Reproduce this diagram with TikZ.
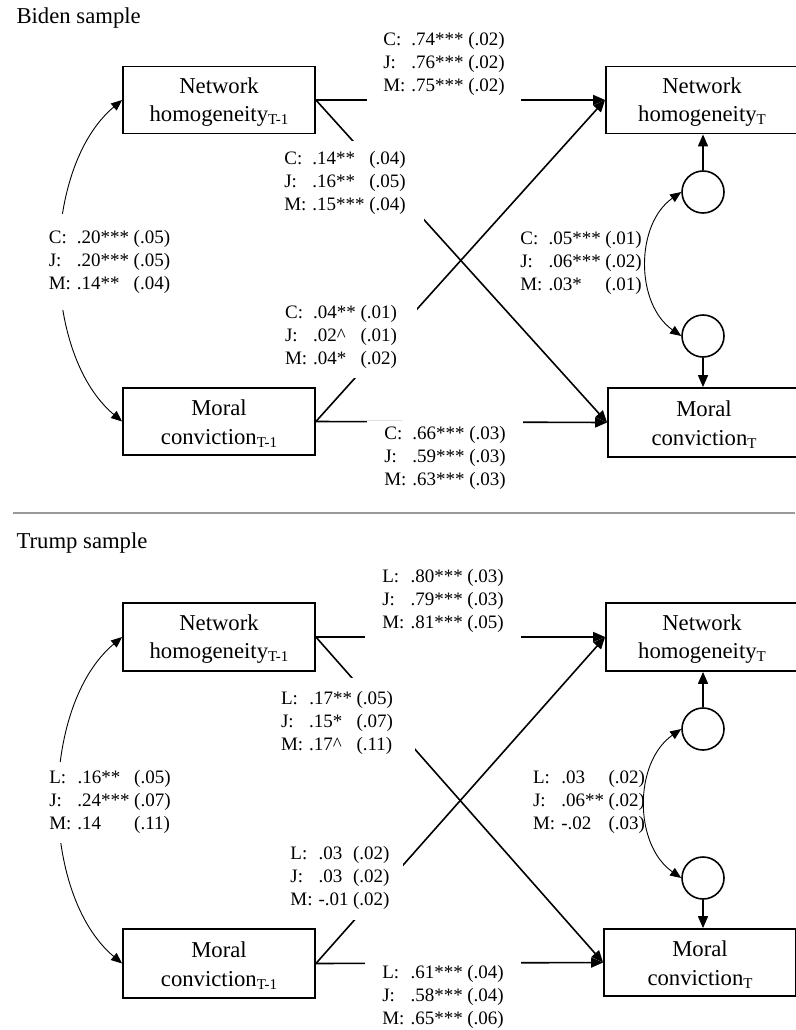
\documentclass[tikz,border=0pt]{standalone}
\usepackage{fontspec}
\setmainfont{Liberation Serif}
\usetikzlibrary{arrows.meta}
\newcommand\bxfont{\fontsize{22.7}{28.5}\selectfont}
\newcommand\cffont{\fontsize{19}{23}\selectfont}
\newcommand\bxtop{\rule{0pt}{20pt}}
\newcommand\tsub[1]{\raisebox{-3pt}{\fontsize{15}{15}\selectfont #1}}
\newcommand\coeftab[1]{\begin{tabular}{@{}l@{\hspace{6pt}}l@{\hspace{4.5pt}}l@{}}#1\end{tabular}}
\tikzset{
  var/.style={draw,line width=1.8pt,minimum width=192pt,minimum height=67pt,inner sep=0pt,align=center,font=\bxfont},
  err/.style={draw,circle,line width=1.6pt,minimum size=42pt,inner sep=0pt},
  coef/.style={fill=white,font=\cffont,inner sep=0pt},
  reg/.style={line width=1.6pt,-{Triangle[length=12pt,width=10pt]}},
  cov/.style={line width=0.9pt,{Triangle[length=11pt,width=9pt]}-{Triangle[length=11pt,width=9pt]}},
}
\begin{document}
\begin{tikzpicture}[x=1pt,y=-1pt]
      \fill[white] (0,0) rectangle (795,1030);
      \useasboundingbox (0,0) rectangle (795,1030);
      \node[anchor=west,font=\bxfont] (ttl1) at (13,18) {Biden sample};
      \node[var] (nh1) at (219,100) {\bxtop Network\\homogeneity\tsub{T-1}};
      \node[var] (mc1) at (219,421.5) {\bxtop Moral\\conviction\tsub{T-1}};
      \node[var] (nh2) at (702,100) {\bxtop Network\\homogeneity\tsub{T}};
      \node[var,minimum height=69pt] (mc2) at (704,422.5) {\bxtop Moral\\conviction\tsub{T}};
      \node[err] (e1) at (703,192) {};
      \node[err] (e2) at (703,336) {};
      \draw[reg] (nh1.east) -- (nh2.west);
      \draw[reg] (nh1.east) -- (mc2.west);
      \draw[reg] (mc1.east) -- (nh2.west);
      \draw[reg] (mc1.east) -- (mc2.west);
      \draw[reg] (e1.north) -- (e1.north |- nh2.south);
      \draw[reg] (e2.south) -- (e2.south |- mc2.north);
      \draw[cov] (nh1.west) to[bend right=50,looseness=0.85] (mc1.west);
      \draw[cov] (e1.west) to[bend right=55] (e2.west);
      \node[coef,inner xsep=16pt,inner ysep=6pt] (ca) at (444,64) {\coeftab{C: & .74*** & (.02)\\ J: & .76*** & (.02)\\ M: & .75*** & (.02)}};
      \node[coef,inner xsep=18pt,inner ysep=8pt] (cb) at (345,183) {\coeftab{C: & .14** & (.04)\\ J: & .16** & (.05)\\ M: & .15*** & (.04)}};
      \node[coef,inner xsep=20pt,inner ysep=6.5pt] (cc) at (341,337) {\coeftab{C: & .04** & (.01)\\ J: & .02\textasciicircum & (.01)\\ M: & .04* & (.02)}};
      \node[coef,inner xsep=17pt,inner ysep=2.5pt] (cd) at (445,458) {\coeftab{C: & .66*** & (.03)\\ J: & .59*** & (.03)\\ M: & .63*** & (.03)}};
      \node[coef,inner xsep=3pt,inner ysep=13.5pt] (ce) at (109.5,262) {\coeftab{C: & .20*** & (.05)\\ J: & .20*** & (.05)\\ M: & .14** & (.04)}};
      \node[font=\cffont,inner sep=0pt] (cf) at (581,263) {\coeftab{C: & .05*** & (.01)\\ J: & .06*** & (.02)\\ M: & .03* & (.01)}};
      \draw[black!40,line width=2.5pt] (13,513) -- (795,513);
      \node[anchor=west,font=\bxfont] (ttl2) at (13,543) {Trump sample};
      \node[var,minimum height=68pt] (nh1b) at (219,637) {\bxtop Network\\homogeneity\tsub{T-1}};
      \node[var,minimum height=69pt] (mc1b) at (219,963.5) {\bxtop Moral\\conviction\tsub{T-1}};
      \node[var,minimum height=68pt] (nh2b) at (702,637) {\bxtop Network\\homogeneity\tsub{T}};
      \node[var] (mc2b) at (700,962.5) {\bxtop Moral\\conviction\tsub{T}};
      \node[err] (e3) at (703,729) {};
      \node[err] (e4) at (703,878) {};
      \draw[reg] (nh1b.east) -- (nh2b.west);
      \draw[reg] (nh1b.east) -- (mc2b.west);
      \draw[reg] (mc1b.east) -- (nh2b.west);
      \draw[reg] (mc1b.east) -- (mc2b.west);
      \draw[reg] (e3.north) -- (e3.north |- nh2b.south);
      \draw[reg] (e4.south) -- (e4.south |- mc2b.north);
      \draw[cov] (nh1b.west) to[bend right=50,looseness=0.85] (mc1b.west);
      \draw[cov] (e3.west) to[bend right=55] (e4.west);
      \node[coef,inner xsep=17pt,inner ysep=4.5pt] (ca2) at (443,601) {\coeftab{L: & .80*** & (.03)\\ J: & .79*** & (.03)\\ M: & .81*** & (.05)}};
      \node[coef,inner xsep=22pt,inner ysep=10.5pt] (cb2) at (337,723) {\coeftab{L: & .17** & (.05)\\ J: & .15* & (.07)\\ M: & .17\textasciicircum & (.11)}};
      \node[coef,inner xsep=13pt,inner ysep=7.5pt] (cc2) at (340,878) {\coeftab{L: & .03 & (.02)\\ J: & .03 & (.02)\\ M: & -.01 & (.02)}};
      \node[coef,inner xsep=17pt,inner ysep=1.5pt] (cd2) at (443,997) {\coeftab{L: & .61*** & (.04)\\ J: & .58*** & (.04)\\ M: & .65*** & (.06)}};
      \node[coef,inner xsep=3pt,inner ysep=6pt] (ce2) at (110,802) {\coeftab{L: & .16** & (.05)\\ J: & .24*** & (.07)\\ M: & .14 & (.11)}};
      \node[font=\cffont,inner sep=0pt] (cf2) at (589,802) {\coeftab{L: & .03 & (.02)\\ J: & .06** & (.02)\\ M: & -.02 & (.03)}};
    \end{tikzpicture}
\end{document}
